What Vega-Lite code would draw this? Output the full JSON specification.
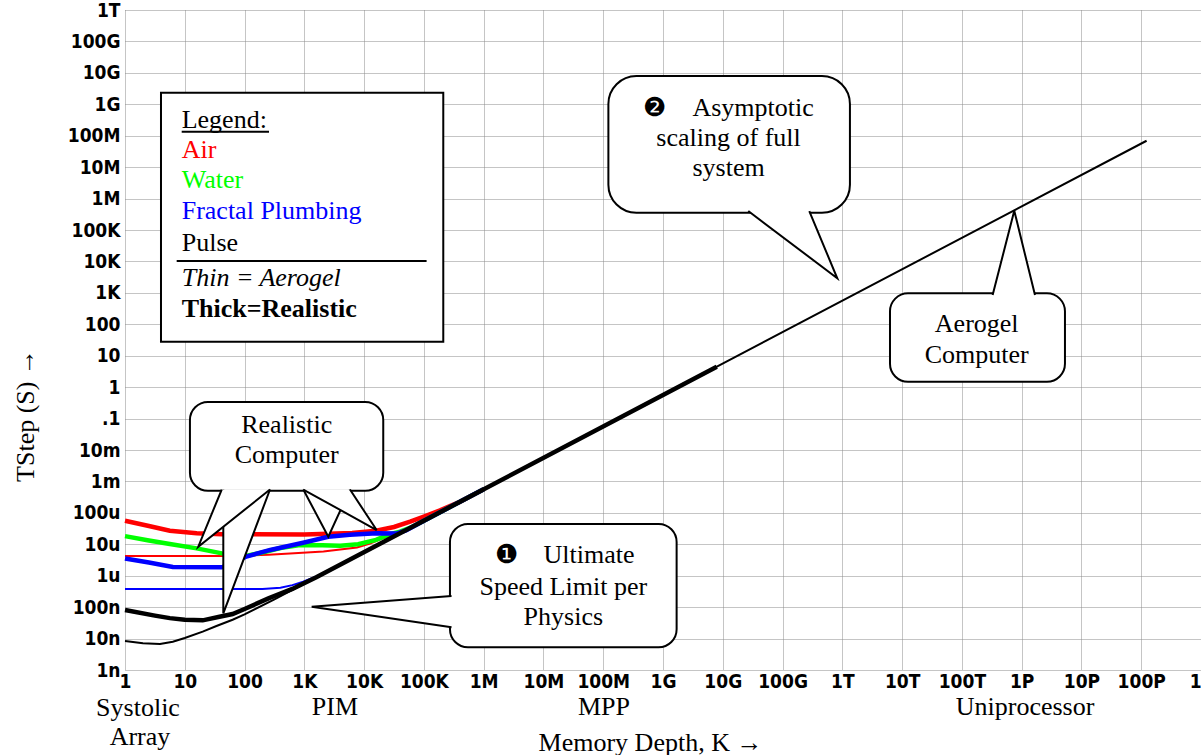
{
  "$schema": "https://vega.github.io/schema/vega-lite/v6.json",
  "width": 1076,
  "height": 660,
  "autosize": {"type": "none"},
  "padding": {"left": 125, "top": 10, "right": 0, "bottom": 85},
  "background": "white",
  "config": {"view": {"stroke": null}},
  "datasets": {
    "curves": [
      {"coolant": "Air", "build": "Realistic", "k": 1, "t": 5.623e-5},
      {"coolant": "Air", "build": "Realistic", "k": 2.512, "t": 3.802e-5},
      {"coolant": "Air", "build": "Realistic", "k": 5.623, "t": 2.692e-5},
      {"coolant": "Air", "build": "Realistic", "k": 15.85, "t": 2.239e-5},
      {"coolant": "Air", "build": "Realistic", "k": 41.69, "t": 2.089e-5},
      {"coolant": "Air", "build": "Realistic", "k": 1000, "t": 2.042e-5},
      {"coolant": "Air", "build": "Realistic", "k": 6310, "t": 2.291e-5},
      {"coolant": "Air", "build": "Realistic", "k": 15850, "t": 2.692e-5},
      {"coolant": "Air", "build": "Realistic", "k": 31620, "t": 3.548e-5},
      {"coolant": "Air", "build": "Realistic", "k": 58880, "t": 5.248e-5},
      {"coolant": "Air", "build": "Realistic", "k": 100000, "t": 7.586e-5},
      {"coolant": "Air", "build": "Realistic", "k": 186200, "t": 1.202e-4},
      {"coolant": "Air", "build": "Realistic", "k": 398100, "t": 2.239e-4},
      {"coolant": "Air", "build": "Realistic", "k": 1000000, "t": 5.623e-4},
      {"coolant": "Water", "build": "Realistic", "k": 1, "t": 1.82e-5},
      {"coolant": "Water", "build": "Realistic", "k": 2.512, "t": 1.318e-5},
      {"coolant": "Water", "build": "Realistic", "k": 5.623, "t": 1.023e-5},
      {"coolant": "Water", "build": "Realistic", "k": 15.85, "t": 7.413e-6},
      {"coolant": "Water", "build": "Realistic", "k": 41.69, "t": 5.129e-6},
      {"coolant": "Water", "build": "Realistic", "k": 100, "t": 4.169e-6},
      {"coolant": "Water", "build": "Realistic", "k": 199.5, "t": 5.495e-6},
      {"coolant": "Water", "build": "Realistic", "k": 398.1, "t": 7.586e-6},
      {"coolant": "Water", "build": "Realistic", "k": 794.3, "t": 9.333e-6},
      {"coolant": "Water", "build": "Realistic", "k": 1995, "t": 9.333e-6},
      {"coolant": "Water", "build": "Realistic", "k": 3981, "t": 8.913e-6},
      {"coolant": "Water", "build": "Realistic", "k": 7943, "t": 1.0e-5},
      {"coolant": "Water", "build": "Realistic", "k": 15850, "t": 1.38e-5},
      {"coolant": "Water", "build": "Realistic", "k": 26920, "t": 2.089e-5},
      {"coolant": "Water", "build": "Realistic", "k": 39810, "t": 2.512e-5},
      {"coolant": "Water", "build": "Realistic", "k": 63100, "t": 3.548e-5},
      {"coolant": "Water", "build": "Realistic", "k": 100000, "t": 5.623e-5},
      {"coolant": "Water", "build": "Realistic", "k": 1000000, "t": 5.623e-4},
      {"coolant": "Fractal Plumbing", "build": "Realistic", "k": 1, "t": 3.548e-6},
      {"coolant": "Fractal Plumbing", "build": "Realistic", "k": 2.512, "t": 2.63e-6},
      {"coolant": "Fractal Plumbing", "build": "Realistic", "k": 6.31, "t": 1.905e-6},
      {"coolant": "Fractal Plumbing", "build": "Realistic", "k": 41.69, "t": 1.862e-6},
      {"coolant": "Fractal Plumbing", "build": "Realistic", "k": 63.1, "t": 2.512e-6},
      {"coolant": "Fractal Plumbing", "build": "Realistic", "k": 107.2, "t": 4.074e-6},
      {"coolant": "Fractal Plumbing", "build": "Realistic", "k": 269.2, "t": 6.607e-6},
      {"coolant": "Fractal Plumbing", "build": "Realistic", "k": 955, "t": 1.122e-5},
      {"coolant": "Fractal Plumbing", "build": "Realistic", "k": 2512, "t": 1.738e-5},
      {"coolant": "Fractal Plumbing", "build": "Realistic", "k": 5754, "t": 1.995e-5},
      {"coolant": "Fractal Plumbing", "build": "Realistic", "k": 16220, "t": 2.239e-5},
      {"coolant": "Fractal Plumbing", "build": "Realistic", "k": 34670, "t": 2.188e-5},
      {"coolant": "Fractal Plumbing", "build": "Realistic", "k": 50120, "t": 2.754e-5},
      {"coolant": "Fractal Plumbing", "build": "Realistic", "k": 100000, "t": 5.623e-5},
      {"coolant": "Fractal Plumbing", "build": "Realistic", "k": 1000000, "t": 5.623e-4},
      {"coolant": "Air", "build": "Aerogel", "k": 1, "t": 4.266e-6},
      {"coolant": "Air", "build": "Aerogel", "k": 41.69, "t": 4.266e-6},
      {"coolant": "Air", "build": "Aerogel", "k": 100, "t": 4.365e-6},
      {"coolant": "Air", "build": "Aerogel", "k": 251.2, "t": 4.677e-6},
      {"coolant": "Air", "build": "Aerogel", "k": 575.4, "t": 5.129e-6},
      {"coolant": "Air", "build": "Aerogel", "k": 2089, "t": 5.888e-6},
      {"coolant": "Air", "build": "Aerogel", "k": 7586, "t": 7.943e-6},
      {"coolant": "Air", "build": "Aerogel", "k": 12590, "t": 1.047e-5},
      {"coolant": "Air", "build": "Aerogel", "k": 19950, "t": 1.514e-5},
      {"coolant": "Air", "build": "Aerogel", "k": 31620, "t": 1.995e-5},
      {"coolant": "Air", "build": "Aerogel", "k": 50120, "t": 2.754e-5},
      {"coolant": "Air", "build": "Aerogel", "k": 100000, "t": 5.623e-5},
      {"coolant": "Fractal Plumbing", "build": "Aerogel", "k": 1, "t": 3.802e-7},
      {"coolant": "Fractal Plumbing", "build": "Aerogel", "k": 199.5, "t": 3.802e-7},
      {"coolant": "Fractal Plumbing", "build": "Aerogel", "k": 398.1, "t": 4.169e-7},
      {"coolant": "Fractal Plumbing", "build": "Aerogel", "k": 631, "t": 5.012e-7},
      {"coolant": "Fractal Plumbing", "build": "Aerogel", "k": 955, "t": 6.457e-7},
      {"coolant": "Fractal Plumbing", "build": "Aerogel", "k": 1549, "t": 9.333e-7},
      {"coolant": "Fractal Plumbing", "build": "Aerogel", "k": 2512, "t": 1.38e-6},
      {"coolant": "Fractal Plumbing", "build": "Aerogel", "k": 3981, "t": 2.239e-6},
      {"coolant": "Fractal Plumbing", "build": "Aerogel", "k": 10000, "t": 5.623e-6},
      {"coolant": "Pulse", "build": "Aerogel", "k": 1, "t": 8.318e-9},
      {"coolant": "Pulse", "build": "Aerogel", "k": 1.995, "t": 7.079e-9},
      {"coolant": "Pulse", "build": "Aerogel", "k": 3.846, "t": 6.761e-9},
      {"coolant": "Pulse", "build": "Aerogel", "k": 6.31, "t": 7.943e-9},
      {"coolant": "Pulse", "build": "Aerogel", "k": 10, "t": 1.047e-8},
      {"coolant": "Pulse", "build": "Aerogel", "k": 19.95, "t": 1.66e-8},
      {"coolant": "Pulse", "build": "Aerogel", "k": 33.88, "t": 2.512e-8},
      {"coolant": "Pulse", "build": "Aerogel", "k": 63.1, "t": 3.981e-8},
      {"coolant": "Pulse", "build": "Aerogel", "k": 100, "t": 5.888e-8},
      {"coolant": "Pulse", "build": "Aerogel", "k": 316.2, "t": 1.778e-7},
      {"coolant": "Pulse", "build": "Aerogel", "k": 1.23e17, "t": 6.918e7},
      {"coolant": "Pulse", "build": "Realistic", "k": 1, "t": 8.128e-8},
      {"coolant": "Pulse", "build": "Realistic", "k": 3.162, "t": 5.37e-8},
      {"coolant": "Pulse", "build": "Realistic", "k": 5.623, "t": 4.467e-8},
      {"coolant": "Pulse", "build": "Realistic", "k": 10, "t": 3.981e-8},
      {"coolant": "Pulse", "build": "Realistic", "k": 19.95, "t": 3.802e-8},
      {"coolant": "Pulse", "build": "Realistic", "k": 39.81, "t": 5.012e-8},
      {"coolant": "Pulse", "build": "Realistic", "k": 63.1, "t": 6.026e-8},
      {"coolant": "Pulse", "build": "Realistic", "k": 100, "t": 8.71e-8},
      {"coolant": "Pulse", "build": "Realistic", "k": 251.2, "t": 1.905e-7},
      {"coolant": "Pulse", "build": "Realistic", "k": 631, "t": 3.802e-7},
      {"coolant": "Pulse", "build": "Realistic", "k": 1585, "t": 8.913e-7},
      {"coolant": "Pulse", "build": "Realistic", "k": 7.94e9, "t": 4.467}
    ],
    "legendbox": [{"k": 4.0, "k2": 211000, "t": 2.33e9, "t2": 27.9}],
    "bubbles": [
      {"bubble": "Realistic Computer", "k": 12.2, "k2": 20900, "t": 0.336, "t2": 5.07e-4},
      {"bubble": "Ultimate Speed Limit", "k": 273000, "k2": 1.69e9, "t": 4.42e-5, "t2": 5.27e-9},
      {"bubble": "Aerogel Computer", "k": 6.27e12, "k2": 5.3e15, "t": 966, "t2": 1.49}
    ],
    "bubbles2": [
      {"bubble": "Asymptotic scaling", "k": 1.22e8, "k2": 1.34e12, "t": 7.93e9, "t2": 355000}
    ],
    "tails": [
      {"tail": "A", "layer": "top", "idx": 0, "k": 41.5, "t": 5.53e-4},
      {"tail": "A", "layer": "top", "idx": 1, "k": 16.8, "t": 8.37e-6},
      {"tail": "A", "layer": "top", "idx": 2, "k": 266.5, "t": 5.53e-4},
      {"tail": "B", "layer": "bottom", "idx": 0, "k": 44.1, "t": 5.53e-4},
      {"tail": "B", "layer": "bottom", "idx": 1, "k": 44.1, "t": 6.37e-8},
      {"tail": "B", "layer": "bottom", "idx": 2, "k": 266.5, "t": 5.53e-4},
      {"tail": "C", "layer": "bottom", "idx": 0, "k": 961, "t": 5.53e-4},
      {"tail": "C", "layer": "bottom", "idx": 1, "k": 2518, "t": 1.74e-5},
      {"tail": "C", "layer": "bottom", "idx": 2, "k": 5800, "t": 5.53e-4},
      {"tail": "D", "layer": "top", "idx": 0, "k": 961, "t": 5.53e-4},
      {"tail": "D", "layer": "top", "idx": 1, "k": 16200, "t": 2.84e-5},
      {"tail": "D", "layer": "top", "idx": 2, "k": 5800, "t": 5.53e-4},
      {"tail": "E", "layer": "bottom", "idx": 0, "k": 290000, "t": 2.26e-7},
      {"tail": "E", "layer": "bottom", "idx": 1, "k": 1328, "t": 1.03e-7},
      {"tail": "E", "layer": "bottom", "idx": 2, "k": 290000, "t": 2.29e-8},
      {"tail": "F", "layer": "bottom", "idx": 0, "k": 2.67e10, "t": 402000},
      {"tail": "F", "layer": "bottom", "idx": 1, "k": 8.23e11, "t": 2904},
      {"tail": "F", "layer": "bottom", "idx": 2, "k": 2.8e11, "t": 402000},
      {"tail": "G", "layer": "bottom", "idx": 0, "k": 3.27e14, "t": 853},
      {"tail": "G", "layer": "bottom", "idx": 1, "k": 7.52e14, "t": 410000},
      {"tail": "G", "layer": "bottom", "idx": 2, "k": 1.67e15, "t": 853}
    ],
    "bubbletext": [
      {"label": "Realistic", "k": 507, "t": 0.0624},
      {"label": "Computer", "k": 507, "t": 6.93e-3},
      {"label": "❶\u00a0\u00a0\u00a0\u00a0Ultimate", "k": 2.25e7, "t": 4.56e-6},
      {"label": "Speed Limit per", "k": 2.15e7, "t": 4.47e-7},
      {"label": "Physics", "k": 2.15e7, "t": 4.97e-8},
      {"label": "❷\u00a0\u00a0\u00a0\u00a0Asymptotic", "k": 1.25e10, "t": 7.43e8},
      {"label": "scaling of full", "k": 1.25e10, "t": 8.26e7},
      {"label": "system", "k": 1.25e10, "t": 9.17e6},
      {"label": "Aerogel", "k": 1.77e14, "t": 102},
      {"label": "Computer", "k": 1.77e14, "t": 10.5}
    ],
    "legendcolored": [
      {"label": "Air", "coolant": "Air", "k": 8.88, "t": 3.51e7},
      {"label": "Water", "coolant": "Water", "k": 8.88, "t": 3.89e6},
      {"label": "Fractal Plumbing", "coolant": "Fractal Plumbing", "k": 8.88, "t": 402000},
      {"label": "Pulse", "coolant": "Pulse", "k": 8.88, "t": 39400}
    ],
    "legendplain": [{"label": "Legend:", "k": 8.88, "t": 3.16e8}],
    "legenditalic": [{"label": "Thin = Aerogel", "k": 8.88, "t": 2904}],
    "legendbold": [{"label": "Thick=Realistic", "k": 8.88, "t": 299}],
    "legendrules": [
      {"rule": "underline", "k": 8.88, "k2": 256.4, "t": 1.34e8},
      {"rule": "separator", "k": 7.32, "k2": 111000, "t": 10300}
    ],
    "regions": [
      {"label": "Systolic", "k": 1.65, "t": 6.4e-11},
      {"label": "Array", "k": 1.78, "t": 7.2e-12},
      {"label": "PIM", "k": 3258, "t": 6.65e-11},
      {"label": "MPP", "k": 1.03e8, "t": 6.65e-11},
      {"label": "Uniprocessor", "k": 1.14e15, "t": 6.5e-11}
    ]
  },
  "encoding": {
    "x": {
      "field": "k",
      "type": "quantitative",
      "scale": {"type": "log", "domain": [1, 1e18], "nice": false},
      "axis": {
        "values": [1, 10, 100, 1000, 10000, 100000, 1e6, 1e7, 1e8, 1e9, 1e10, 1e11, 1e12, 1e13, 1e14, 1e15, 1e16, 1e17, 1e18],
        "labelExpr": "replace(format(datum.value, '~s'), 'k', 'K')",
        "grid": true,
        "gridColor": "#8a8a8a",
        "gridDash": [1, 1],
        "gridWidth": 1,
        "ticks": false,
        "domain": false,
        "labelOverlap": false,
        "labelFlush": false,
        "labelBound": false,
        "labelFont": "Liberation Sans Narrow, DejaVu Sans Condensed, sans-serif",
        "labelFontSize": 19,
        "labelFontWeight": "bold",
        "labelColor": "#000000",
        "labelPadding": 2,
        "title": "Memory Depth, K →",
        "titleFont": "Liberation Serif",
        "titleFontSize": 26,
        "titleFontWeight": "normal",
        "titleColor": "#000000",
        "titleX": 525,
        "titleY": 72,
        "titleAlign": "center",
        "titleBaseline": "middle"
      }
    },
    "y": {
      "field": "t",
      "type": "quantitative",
      "scale": {"type": "log", "domain": [1e-9, 1e12], "nice": false},
      "axis": {
        "values": [1e-9, 1e-8, 1e-7, 1e-6, 1e-5, 1e-4, 0.001, 0.01, 0.1, 1, 10, 100, 1000, 10000, 100000, 1e6, 1e7, 1e8, 1e9, 1e10, 1e11, 1e12],
        "labelExpr": "datum.value == 0.1 ? '.1' : replace(replace(format(datum.value, '~s'), '\u00b5', 'u'), 'k', 'K')",
        "grid": true,
        "gridColor": "#8a8a8a",
        "gridDash": [1, 1],
        "gridWidth": 1,
        "ticks": false,
        "domain": false,
        "labelOverlap": false,
        "labelFont": "Liberation Sans Narrow, DejaVu Sans Condensed, sans-serif",
        "labelFontSize": 19,
        "labelFontWeight": "bold",
        "labelColor": "#000000",
        "labelPadding": 5,
        "title": "TStep (S) →",
        "titleFont": "Liberation Serif",
        "titleFontSize": 26,
        "titleFontWeight": "normal",
        "titleColor": "#000000",
        "titleAngle": 270,
        "titleX": -100,
        "titleY": 405,
        "titleAlign": "center",
        "titleBaseline": "middle"
      }
    }
  },
  "layer": [
    {
      "data": {"name": "legendbox"},
      "mark": {"type": "rect", "fill": "white", "stroke": "black", "strokeWidth": 2},
      "encoding": {"x2": {"field": "k2"}, "y2": {"field": "t2"}}
    },
    {
      "data": {"name": "curves"},
      "transform": [{"filter": "datum.build == 'Aerogel' && datum.coolant != 'Pulse'"}],
      "mark": {"type": "line", "strokeWidth": 2},
      "encoding": {
        "color": {"field": "coolant", "type": "nominal", "scale": {"domain": ["Air", "Water", "Fractal Plumbing", "Pulse"], "range": ["#ff0000", "#00ff00", "#0000ff", "#000000"]}, "legend": null},
        "detail": {"field": "build"}
      }
    },
    {
      "data": {"name": "curves"},
      "transform": [{"filter": "datum.build == 'Realistic' && datum.coolant != 'Pulse'"}],
      "mark": {"type": "line", "strokeWidth": 4.5},
      "encoding": {
        "color": {"field": "coolant", "type": "nominal", "scale": {"domain": ["Air", "Water", "Fractal Plumbing", "Pulse"], "range": ["#ff0000", "#00ff00", "#0000ff", "#000000"]}, "legend": null},
        "detail": {"field": "build"}
      }
    },
    {
      "data": {"name": "curves"},
      "transform": [{"filter": "datum.build == 'Aerogel' && datum.coolant == 'Pulse'"}],
      "mark": {"type": "line", "strokeWidth": 2},
      "encoding": {
        "color": {"field": "coolant", "type": "nominal", "scale": {"domain": ["Air", "Water", "Fractal Plumbing", "Pulse"], "range": ["#ff0000", "#00ff00", "#0000ff", "#000000"]}, "legend": null}
      }
    },
    {
      "data": {"name": "curves"},
      "transform": [{"filter": "datum.build == 'Realistic' && datum.coolant == 'Pulse'"}],
      "mark": {"type": "line", "strokeWidth": 4.5},
      "encoding": {
        "color": {"field": "coolant", "type": "nominal", "scale": {"domain": ["Air", "Water", "Fractal Plumbing", "Pulse"], "range": ["#ff0000", "#00ff00", "#0000ff", "#000000"]}, "legend": null}
      }
    },
    {
      "data": {"name": "bubbles"},
      "mark": {"type": "rect", "fill": "white", "stroke": "black", "strokeWidth": 2, "cornerRadius": 18},
      "encoding": {"x2": {"field": "k2"}, "y2": {"field": "t2"}}
    },
    {
      "data": {"name": "bubbles2"},
      "mark": {"type": "rect", "fill": "white", "stroke": "black", "strokeWidth": 2, "cornerRadius": 28},
      "encoding": {"x2": {"field": "k2"}, "y2": {"field": "t2"}}
    },
    {
      "data": {"name": "tails"},
      "transform": [{"filter": "datum.layer == 'bottom'"}],
      "mark": {"type": "line", "fill": "white", "stroke": "black", "strokeWidth": 2, "strokeJoin": "miter"},
      "encoding": {"order": {"field": "idx", "type": "quantitative"}, "detail": {"field": "tail"}}
    },
    {
      "data": {"name": "tails"},
      "transform": [{"filter": "datum.layer == 'top'"}],
      "mark": {"type": "line", "fill": "white", "stroke": "black", "strokeWidth": 2, "strokeJoin": "miter"},
      "encoding": {"order": {"field": "idx", "type": "quantitative"}, "detail": {"field": "tail"}}
    },
    {
      "data": {"name": "bubbletext"},
      "mark": {"type": "text", "font": "Liberation Serif", "fontSize": 26, "align": "center", "baseline": "middle", "color": "black"},
      "encoding": {"text": {"field": "label"}}
    },
    {
      "data": {"name": "legendcolored"},
      "mark": {"type": "text", "font": "Liberation Serif", "fontSize": 26, "align": "left", "baseline": "middle"},
      "encoding": {
        "text": {"field": "label"},
        "color": {"field": "coolant", "type": "nominal", "scale": {"domain": ["Air", "Water", "Fractal Plumbing", "Pulse"], "range": ["#ff0000", "#00ff00", "#0000ff", "#000000"]}, "legend": null}
      }
    },
    {
      "data": {"name": "legendplain"},
      "mark": {"type": "text", "font": "Liberation Serif", "fontSize": 26, "align": "left", "baseline": "middle", "color": "black"},
      "encoding": {"text": {"field": "label"}}
    },
    {
      "data": {"name": "legenditalic"},
      "mark": {"type": "text", "font": "Liberation Serif", "fontSize": 26, "fontStyle": "italic", "align": "left", "baseline": "middle", "color": "black"},
      "encoding": {"text": {"field": "label"}}
    },
    {
      "data": {"name": "legendbold"},
      "mark": {"type": "text", "font": "Liberation Serif", "fontSize": 26, "fontWeight": "bold", "align": "left", "baseline": "middle", "color": "black"},
      "encoding": {"text": {"field": "label"}}
    },
    {
      "data": {"name": "legendrules"},
      "mark": {"type": "rule", "color": "black", "strokeWidth": 2},
      "encoding": {"x2": {"field": "k2"}}
    },
    {
      "data": {"name": "regions"},
      "mark": {"type": "text", "font": "Liberation Serif", "fontSize": 26, "align": "center", "baseline": "middle", "color": "black"},
      "encoding": {"text": {"field": "label"}}
    }
  ]
}
